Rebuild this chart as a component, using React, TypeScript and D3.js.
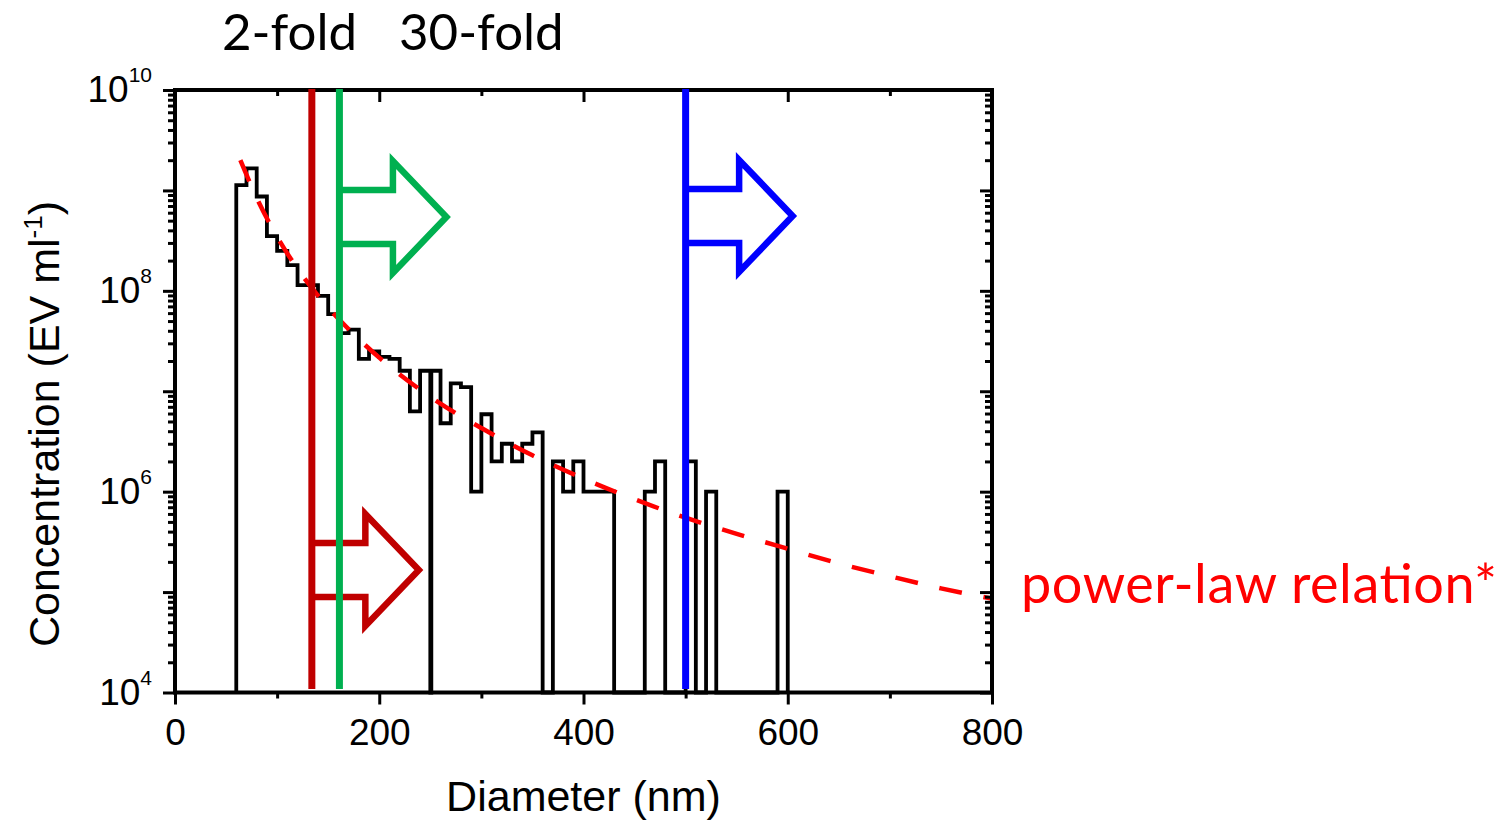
import React, { useEffect, useRef } from "react";
import * as d3 from "d3";

// histogram: left edge of each bin (nm) and concentration (EV/ml); a bin runs to the next left edge
const binLeft = [
  60, 70, 80, 90, 100, 110, 120, 130, 140, 150, 160, 170, 180, 190, 200, 210, 220, 230, 240, 250,
  251, 260, 270, 280, 290, 300, 310, 320, 330, 340, 350, 360, 370, 380, 390, 400, 410, 420, 430,
  460, 470, 480, 500, 510, 520, 530, 590,
];
const concentration = [
  1.13e9, 1.66e9, 8.7e8, 3.5e8, 2.5e8, 1.8e8, 1.14e8, 1.14e8, 8.9e7, 5.85e7, 3.8e7, 4.1e7, 2.1e7,
  2.5e7, 2.2e7, 2.1e7, 1.6e7, 6.3e6, 1.6e7, 0, 1.6e7, 4.8e6, 1.2e7, 1.1e7, 1.0e6, 5.9e6, 2.0e6,
  3.0e6, 2.0e6, 3.0e6, 3.9e6, 0, 2.0e6, 1.0e6, 2.0e6, 1.0e6, 1.0e6, 1.0e6, 0, 1.0e6, 2.0e6, 0,
  2.0e6, 0, 1.0e6, 0, 1.0e6,
];
const lastBinRight = 600;

// dashed power-law relation
const fitDiameter = [64, 80, 100, 125, 150, 175, 200, 250, 300, 350, 400, 450, 500, 550, 600, 650, 700, 750, 800];
const fitConcentration = [
  2.0e9, 8.4e8, 3.45e8, 1.41e8, 6.8e7, 3.7e7, 2.16e7, 8.8e6, 4.3e6, 2.3e6, 1.35e6, 8.4e5, 5.5e5,
  3.8e5, 2.7e5, 1.93e5, 1.44e5, 1.09e5, 8.6e4,
];

// cut-off lines (nm): 2-fold, 30-fold, large
const cutoffDiameter = [134, 161, 500];

const xMajorTicks = [0, 200, 400, 600, 800];
const xMinorTicks = [100, 300, 500, 700];
const yLabelPowers = [4, 6, 8, 10];

const ARIAL = "'Liberation Sans', Arial, sans-serif";
const CALIBRI = "Lato, 'Open Sans', sans-serif";

function ConcentrationChart() {
  const width = 1508;
  const height = 821;
  const plot = { left: 175, right: 992, top: 90, bottom: 692.5 };
  const svgRef = useRef<SVGSVGElement>(null);

  useEffect(() => {
    const svg = d3.select(svgRef.current);
    svg.selectAll("*").remove();

    const x = d3.scaleLinear().domain([0, 800]).range([plot.left, plot.right]);
    const y = d3.scaleLog().domain([1e4, 1e10]).range([plot.bottom, plot.top]);
    const yc = (v: number) => y(Math.max(v, 1e4));

    // histogram steps
    const pts: [number, number][] = [[binLeft[0], 0]];
    binLeft.forEach((d, i) => pts.push([d, concentration[i]]));
    pts.push([lastBinRight, concentration[concentration.length - 1]]);
    pts.push([lastBinRight, 0]);
    const step = d3
      .line<[number, number]>()
      .x((d) => x(d[0]))
      .y((d) => yc(d[1]))
      .curve(d3.curveStepAfter);
    svg
      .append("path")
      .attr("d", step(pts))
      .attr("fill", "none")
      .attr("stroke", "#000")
      .attr("stroke-width", 3.8);

    // power-law curve
    const fitLine = d3
      .line<number>()
      .x((d) => x(d))
      .y((d, i) => y(fitConcentration[i]))
      .curve(d3.curveMonotoneX);
    svg
      .append("path")
      .attr("d", fitLine(fitDiameter))
      .attr("fill", "none")
      .attr("stroke", "#ff0000")
      .attr("stroke-width", 4.5)
      .attr("stroke-dasharray", "23 22");

    // ticks
    const yMinor: number[] = [];
    for (let p = 4; p < 10; p++) for (let k = 2; k < 10; k++) yMinor.push(k * Math.pow(10, p));
    const yMajor = d3.range(4, 11).map((p) => Math.pow(10, p));

    const tickAxis = (axis: any, tx: number, ty: number) => {
      const g = svg.append("g").attr("transform", `translate(${tx},${ty})`).call(axis);
      g.select(".domain").remove();
      g.selectAll("line").attr("stroke", "#000").attr("stroke-width", 3);
      return g;
    };

    const bottom = tickAxis(d3.axisBottom(x).tickValues(xMajorTicks).tickSize(12).tickFormat(d3.format("d")), 0, plot.bottom);
    bottom
      .selectAll("text")
      .attr("y", 52.5)
      .attr("dy", 0)
      .attr("fill", "#000")
      .style("font-family", ARIAL)
      .style("font-size", "37px");
    tickAxis(d3.axisBottom(x).tickValues(xMinorTicks).tickSize(6).tickFormat(() => ""), 0, plot.bottom);
    tickAxis(d3.axisBottom(x).tickValues(xMajorTicks).tickSize(12).tickFormat(() => ""), 0, plot.top);
    tickAxis(d3.axisBottom(x).tickValues(xMinorTicks).tickSize(6).tickFormat(() => ""), 0, plot.top);

    tickAxis(d3.axisLeft(y).tickValues(yMajor).tickSize(12).tickFormat(() => ""), plot.left, 0);
    tickAxis(d3.axisLeft(y).tickValues(yMinor).tickSize(7).tickFormat(() => ""), plot.left, 0);
    tickAxis(d3.axisLeft(y).tickValues(yMajor).tickSize(12).tickFormat(() => ""), plot.right, 0);
    tickAxis(d3.axisLeft(y).tickValues(yMinor).tickSize(7).tickFormat(() => ""), plot.right, 0);

    // y labels 10^n
    yLabelPowers.forEach((p) => {
      const t = svg
        .append("text")
        .attr("x", 152)
        .attr("y", y(Math.pow(10, p)) + 12)
        .attr("text-anchor", "end")
        .style("font-family", ARIAL)
        .style("font-size", "37px");
      t.append("tspan").text("10");
      t.append("tspan").attr("dy", -20).style("font-size", "21px").text(String(p));
    });

    // frame
    svg
      .append("rect")
      .attr("x", plot.left)
      .attr("y", plot.top)
      .attr("width", plot.right - plot.left)
      .attr("height", plot.bottom - plot.top)
      .attr("fill", "none")
      .attr("stroke", "#000")
      .attr("stroke-width", 4);

    // axis titles
    svg
      .append("text")
      .attr("x", 583.5)
      .attr("y", 811)
      .attr("text-anchor", "middle")
      .style("font-family", ARIAL)
      .style("font-size", "43px")
      .text("Diameter (nm)");
    const yt = svg
      .append("text")
      .attr("transform", "translate(59,424) rotate(-90)")
      .attr("text-anchor", "middle")
      .style("font-family", ARIAL)
      .style("font-size", "43px");
    yt.append("tspan").text("Concentration (EV ml");
    yt.append("tspan").attr("dy", -17).style("font-size", "26px").text("-1");
    yt.append("tspan").attr("dy", 17).text(")");

    // cut-off lines with outline arrows
    const colors = ["#c00000", "#00b050", "#0000ff"];
    const arrowY = [570, 217, 216];
    const arrow = (lx: number, cy: number) =>
      `M${lx},${cy - 27}L${lx + 53.5},${cy - 27}L${lx + 53.5},${cy - 56}L${lx + 107},${cy}` +
      `L${lx + 53.5},${cy + 56}L${lx + 53.5},${cy + 27}L${lx},${cy + 27}`;
    cutoffDiameter.forEach((d, i) => {
      const lx = x(d);
      svg
        .append("path")
        .attr("d", arrow(lx, arrowY[i]))
        .attr("fill", "none")
        .attr("stroke", colors[i])
        .attr("stroke-width", 6.5)
        .attr("stroke-linejoin", "miter");
      svg
        .append("line")
        .attr("x1", lx)
        .attr("x2", lx)
        .attr("y1", 89)
        .attr("y2", 689)
        .attr("stroke", colors[i])
        .attr("stroke-width", 7);
    });

    // annotations
    svg
      .append("text")
      .attr("x", 222)
      .attr("y", 50)
      .style("font-family", CALIBRI)
      .style("font-size", "51px")
      .text("2-fold");
    svg
      .append("text")
      .attr("x", 399)
      .attr("y", 50)
      .style("font-family", CALIBRI)
      .style("font-size", "51px")
      .text("30-fold");
    svg
      .append("text")
      .attr("x", 1021)
      .attr("y", 603)
      .attr("fill", "#ff0000")
      .attr("textLength", 476)
      .attr("lengthAdjust", "spacing")
      .style("font-family", CALIBRI)
      .style("font-size", "54px")
      .text("power-law relation*");
  }, []);

  return (
    <svg
      ref={svgRef}
      style={{ position: "absolute", left: 0, top: 0, background: "#fff" }}
      width={width}
      height={height}
    ></svg>
  );
}

export default function App() {
  return <ConcentrationChart />;
}
